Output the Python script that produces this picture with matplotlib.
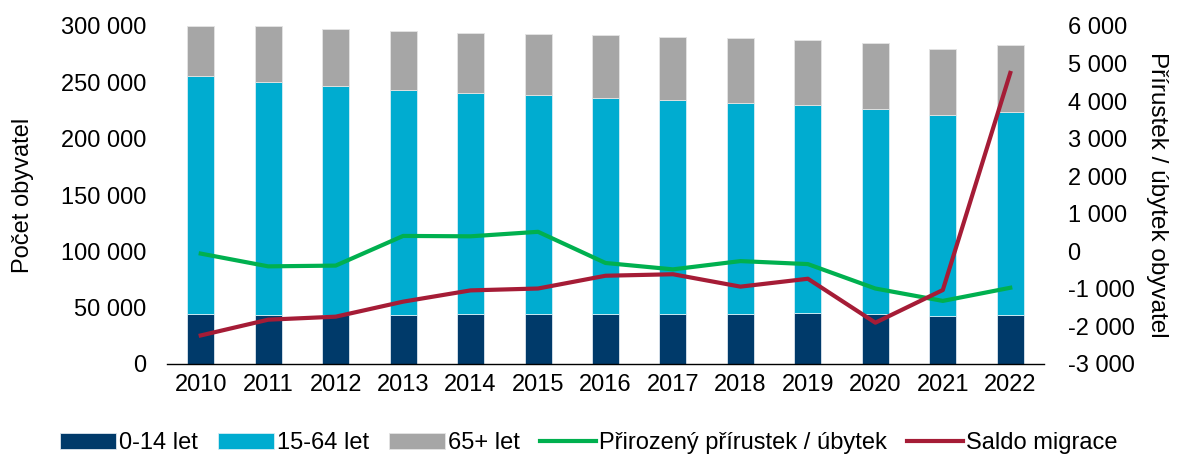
import numpy as np
import matplotlib.pyplot as plt
from matplotlib.ticker import FuncFormatter

plt.rcParams['font.family'] = ['Liberation Sans', 'DejaVu Sans']
plt.rcParams['axes.unicode_minus'] = False

years = ['2010', '2011', '2012', '2013', '2014', '2015', '2016',
         '2017', '2018', '2019', '2020', '2021', '2022']

# population by age group
age_0_14 = [44400, 43800, 43800, 43800, 44400, 44400, 44400,
            44700, 44700, 45300, 44400, 42600, 43500]
age_15_64 = [210900, 206200, 202700, 199400, 196500, 194100, 191500,
             189400, 187100, 184400, 182100, 178300, 180300]
age_65 = [45000, 49700, 50800, 52400, 53200, 54100, 55900,
          56200, 57300, 58200, 58200, 58800, 59700]

# right axis series
natural = [-60, -400, -380, 410, 400, 520, -310,
           -480, -260, -340, -990, -1320, -970]
migration = [-2240, -1820, -1740, -1340, -1040, -990, -650,
             -610, -940, -730, -1900, -1030, 4750]

c_young = '#003A6A'
c_mid = '#00ACD0'
c_old = '#A6A6A6'
c_nat = '#00B04F'
c_mig = '#A51C36'
fs = 17


def space_thousands(v, pos):
    s = f'{abs(int(round(v))):,}'.replace(',', ' ')
    return ('-' if v < 0 else '') + s


fig = plt.figure(figsize=(11.78, 4.55), dpi=100)
ax = fig.add_axes([167 / 1178, 1 - 364 / 455, (1044 - 167) / 1178, 338 / 455])
x = np.arange(len(years))
w = 0.4

ax.bar(x, age_0_14, w, color=c_young, edgecolor='#dde6ee', linewidth=0.6, label='0-14 let')
ax.bar(x, age_15_64, w, bottom=age_0_14, color=c_mid, edgecolor='#d5eef5', linewidth=0.6, label='15-64 let')
bottom2 = np.array(age_0_14) + np.array(age_15_64)
ax.bar(x, age_65, w, bottom=bottom2, color=c_old, edgecolor='#e4e4e4', linewidth=0.6, label='65+ let')

ax.set_ylim(0, 300000)
ax.set_yticks(np.arange(0, 300001, 50000))
ax.yaxis.set_major_formatter(FuncFormatter(space_thousands))
ax.set_xlim(-0.5, len(years) - 0.5)
ax.set_xticks(x)
ax.set_xticklabels(years)
ax.set_ylabel('Počet obyvatel', fontsize=fs, labelpad=19)
ax.tick_params(length=0, labelsize=fs)
ax.tick_params(axis='x', pad=7)
ax.tick_params(axis='y', pad=15)
for s in ax.spines.values():
    s.set_visible(False)
ax.spines['bottom'].set_visible(True)
ax.spines['bottom'].set_color('black')
ax.spines['bottom'].set_linewidth(1.0)

ax2 = ax.twinx()
ax2.plot(x, natural, color=c_nat, linewidth=3, label='Přirozený přírustek / úbytek')
ax2.plot(x, migration, color=c_mig, linewidth=3, label='Saldo migrace')
ax2.set_ylim(-3000, 6000)
ax2.set_yticks(np.arange(-3000, 6001, 1000))
ax2.yaxis.set_major_formatter(FuncFormatter(space_thousands))
ax2.set_ylabel('Přírustek / úbytek obyvatel', fontsize=fs + 0.5, rotation=-90, labelpad=24)
ax2.tick_params(length=0, labelsize=fs, pad=17)
for s in ax2.spines.values():
    s.set_visible(False)

h1, l1 = ax.get_legend_handles_labels()
h2, l2 = ax2.get_legend_handles_labels()
fig.legend(h1 + h2, l1 + l2, loc='lower center', bbox_to_anchor=(0.5, -0.045), ncol=5,
           frameon=False, fontsize=fs, handlelength=2.35, handletextpad=0.15,
           columnspacing=0.85)

fig.savefig('out.png', dpi=100)
